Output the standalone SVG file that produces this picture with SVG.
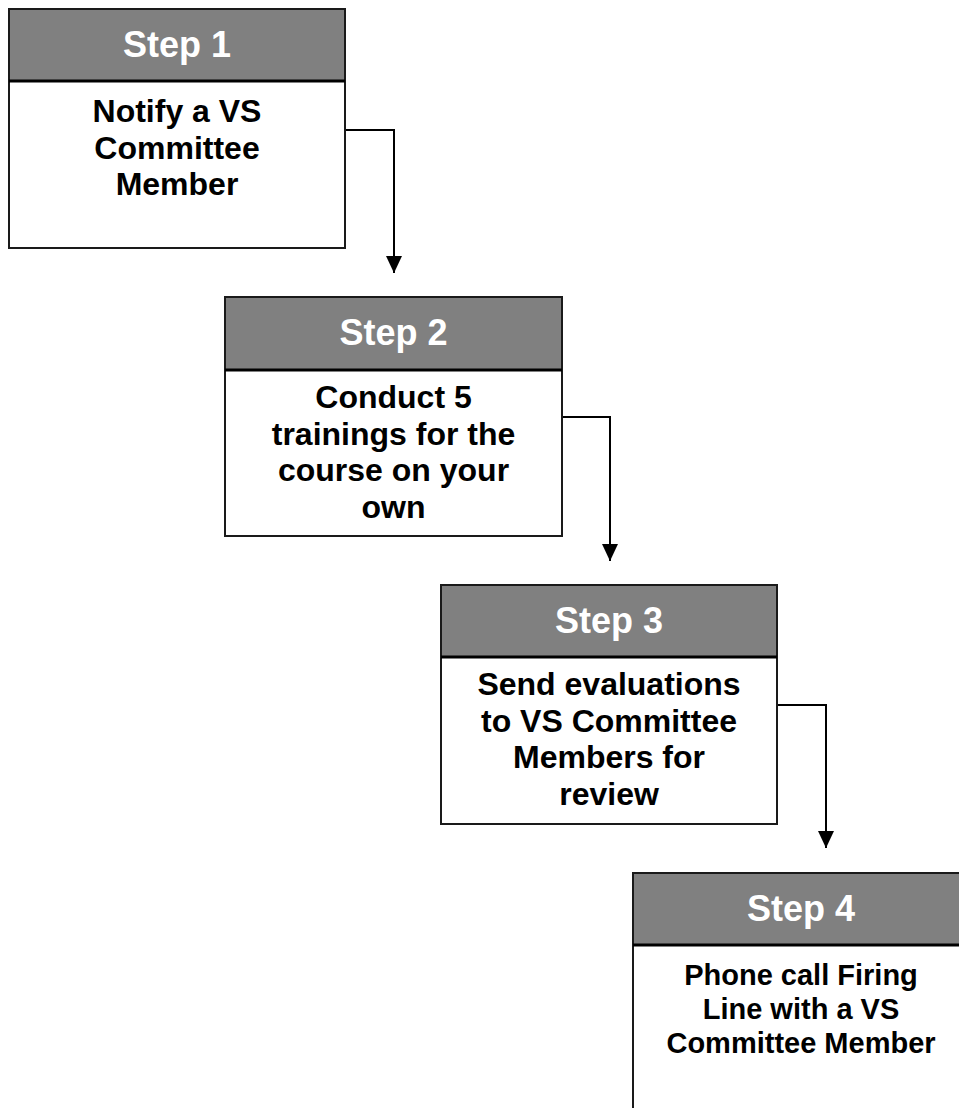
<svg xmlns="http://www.w3.org/2000/svg" width="959" height="1108" viewBox="0 0 959 1108">
  <style>
    .box { fill: #ffffff; stroke: #1a1a1a; stroke-width: 2; }
    .head { fill: #808080; stroke: #1a1a1a; stroke-width: 2; }
    .sep { stroke: #000000; stroke-width: 3; }
    .title { font-family: "Liberation Sans", Arial, sans-serif; font-weight: bold; font-size: 36px; fill: #ffffff; text-anchor: middle; }
    .body { font-family: "Liberation Sans", Arial, sans-serif; font-weight: bold; font-size: 32px; fill: #000000; text-anchor: middle; }
    .small { font-size: 29px; }
    .link { fill: none; stroke: #000000; stroke-width: 2; marker-end: url(#arrow); }
  </style>
  <defs>
    <!-- solid triangular arrowhead, tip at the path end -->
    <marker id="arrow" markerUnits="userSpaceOnUse" markerWidth="17" markerHeight="16" refX="17" refY="8" orient="auto" viewBox="0 0 17 16">
      <path d="M0,0 L17,8 L0,16 Z" fill="#000000"/>
    </marker>
  </defs>
  <rect width="959" height="1108" fill="#ffffff"/>

  <g id="connectors">
    <path class="link" d="M345,130 H394 V273"/>
    <path class="link" d="M562,417 H610 V561"/>
    <path class="link" d="M777,705 H826 V848"/>
  </g>

  <g id="step1">
    <rect class="box" x="9" y="9" width="336" height="239"/>
    <rect class="head" x="9" y="9" width="336" height="72"/>
    <line class="sep" x1="9" y1="81" x2="345" y2="81"/>
    <text class="title" x="177" y="57">Step 1</text>
    <text class="body" x="177" y="122">Notify a VS</text>
    <text class="body" x="177" y="158.5">Committee</text>
    <text class="body" x="177" y="195">Member</text>
  </g>

  <g id="step2">
    <rect class="box" x="225" y="297" width="337" height="239"/>
    <rect class="head" x="225" y="297" width="337" height="73"/>
    <line class="sep" x1="225" y1="370" x2="562" y2="370"/>
    <text class="title" x="393.5" y="345">Step 2</text>
    <text class="body" x="393.5" y="408">Conduct 5</text>
    <text class="body" x="393.5" y="444.5">trainings for the</text>
    <text class="body" x="393.5" y="481">course on your</text>
    <text class="body" x="393.5" y="517.5">own</text>
  </g>

  <g id="step3">
    <rect class="box" x="441" y="585" width="336" height="239"/>
    <rect class="head" x="441" y="585" width="336" height="72"/>
    <line class="sep" x1="441" y1="657" x2="777" y2="657"/>
    <text class="title" x="609" y="633">Step 3</text>
    <text class="body" x="609" y="695">Send evaluations</text>
    <text class="body" x="609" y="731.5">to VS Committee</text>
    <text class="body" x="609" y="768">Members for</text>
    <text class="body" x="609" y="804.5">review</text>
  </g>

  <g id="step4">
    <rect class="box" x="633" y="873" width="336" height="239"/>
    <rect class="head" x="633" y="873" width="336" height="72"/>
    <line class="sep" x1="633" y1="945" x2="969" y2="945"/>
    <text class="title" x="801" y="921">Step 4</text>
    <text class="body small" x="801" y="985">Phone call Firing</text>
    <text class="body small" x="801" y="1019">Line with a VS</text>
    <text class="body small" x="801" y="1053">Committee Member</text>
  </g>
</svg>
